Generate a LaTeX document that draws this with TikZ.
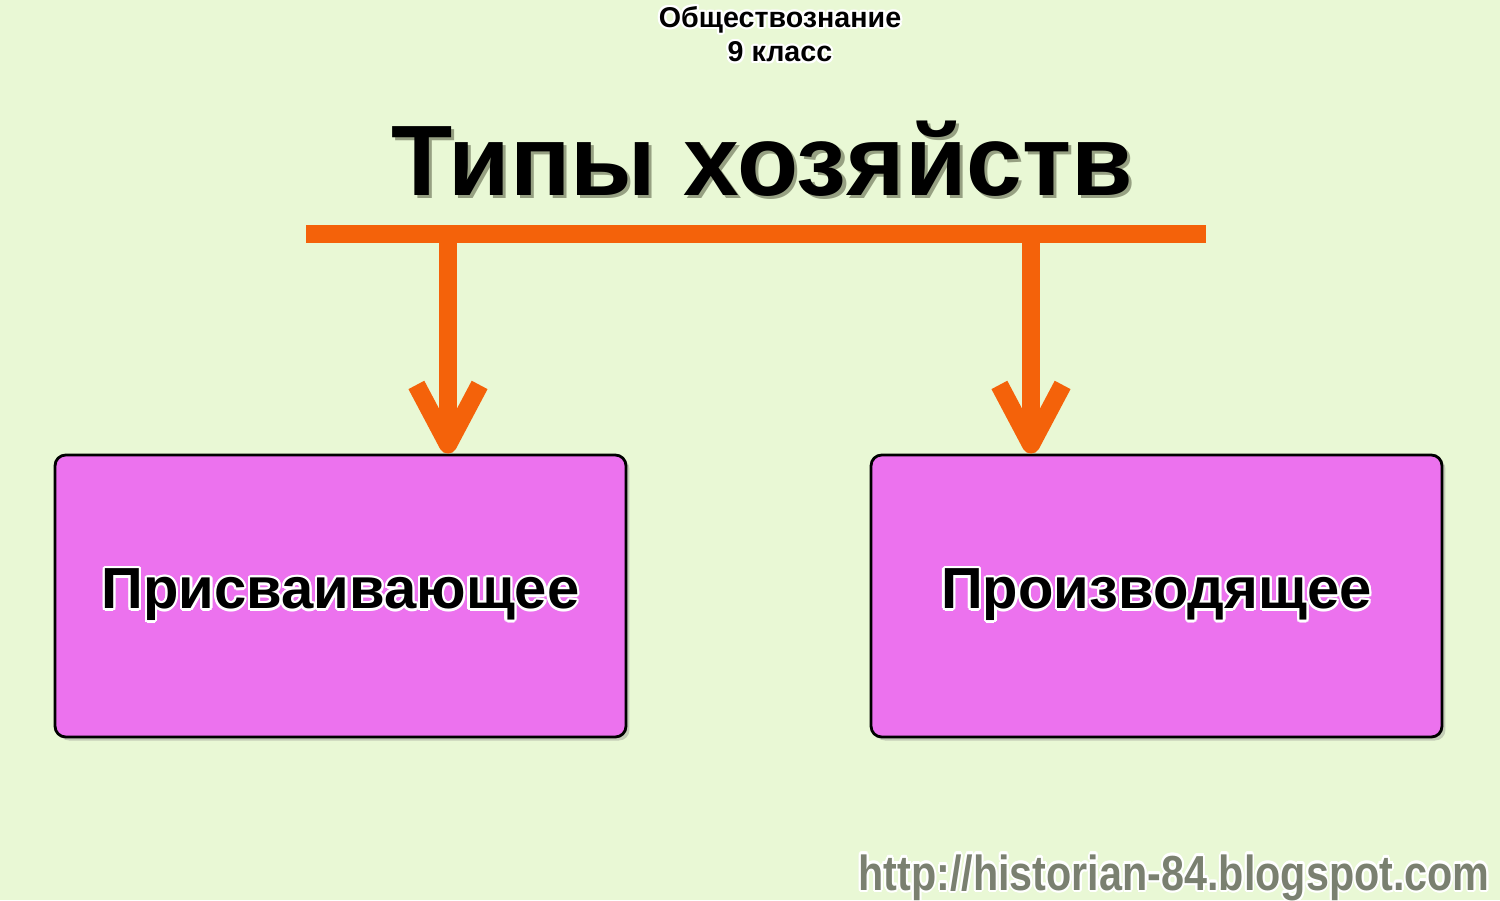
\documentclass[tikz,border=0pt]{standalone}
\usepackage{fontspec}
\setmainfont{Liberation Sans}
\usepackage{contour}
\usetikzlibrary{positioning, arrows.meta, shadows}

\definecolor{bgcol}{RGB}{233,248,213}
\definecolor{barcol}{RGB}{244,98,10}
\definecolor{boxcol}{RGB}{236,114,238}
\definecolor{urlcol}{RGB}{122,128,112}
\definecolor{shadecol}{RGB}{150,160,130}
\contourlength{1.3pt}
% text with a soft offset shadow
\newcommand\shaded[1]{\rlap{\kern1.8pt\raisebox{-1.8pt}{\color{shadecol}#1}}#1}

\tikzset{
  typebox/.style={draw=black, line width=1.6pt, rounded corners=6pt, fill=boxcol,
    minimum width=11.42cm, minimum height=5.64cm,
    drop shadow={shadow xshift=2pt, shadow yshift=-2pt, opacity=0.35},
    font=\fontsize{33}{40}\selectfont\bfseries},
  barline/.style={draw=barcol, line width=10.8pt},
  typearrow/.style={draw=barcol, line width=10.2pt,
    -{Straight Barb[length=34pt, width=36pt, line join=round]}},
}

\begin{document}
\begin{tikzpicture}[x=0.02cm, y=-0.02cm]
    \fill[bgcol] (0,0) rectangle (1500,900);
    \useasboundingbox (0,0) rectangle (1500,900);

    \node[anchor=north, inner sep=0pt, align=center,
          font=\fontsize{16.3}{19.5}\selectfont\bfseries] (subj) at (780,6)
          {\contour{white}{Обществознание}\\\contour{white}{9 класс}};
    \node[anchor=base, inner sep=0pt, font=\fontsize{57}{60}\selectfont\bfseries]
          (title) at (762,195) {\shaded{Типы хозяйств}};

    \coordinate (barL) at (306,234);
    \coordinate (barR) at (1206,234);
    \coordinate (s1) at (448,234);
    \coordinate (s2) at (1031,234);

    \node[typebox] (lbox) at (340.5,596) {\contour{white}{Присваивающее}};
    \node[typebox] (rbox) at (1156.5,596) {\contour{white}{Производящее}};

    \draw[barline] (barL) -- (barR);
    \draw[typearrow] (s1) -- (s1 |- lbox.north);
    \draw[typearrow] (s2) -- (s2 |- rbox.north);

    \node[anchor=base east, inner sep=0pt, text=urlcol,
          font=\fontsize{28}{30}\selectfont\bfseries] (url) at (1490,890)
          {\scalebox{0.84}[1]{\contour{white}{http://historian-84.blogspot.com}}};
\end{tikzpicture}
\end{document}
